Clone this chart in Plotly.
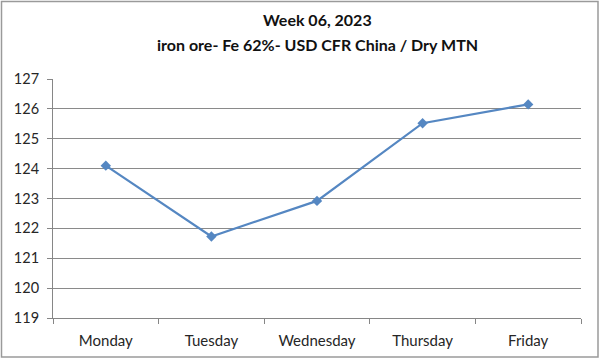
import plotly.graph_objects as go

days = ["Monday", "Tuesday", "Wednesday", "Thursday", "Friday"]
prices = [124.1, 121.73, 122.92, 125.52, 126.15]
y_ticks = [119, 120, 121, 122, 123, 124, 125, 126, 127]
title_line1 = "Week 06, 2023"
title_line2 = "iron ore- Fe 62%- USD CFR China / Dry MTN"

W, H = 600, 359
L, R, T, B = 53, 19, 79, 41
pw, ph = W - L - R, H - T - B

fig = go.Figure()
fig.add_trace(go.Scatter(
    x=days, y=prices, mode="lines+markers",
    line=dict(color="#5587C2", width=2.2),
    marker=dict(symbol="diamond", size=8, color="#5587C2"),
    showlegend=False, hoverinfo="x+y",
))

font = "Lato, Open Sans, sans-serif"
fig.update_layout(
    width=W, height=H,
    margin=dict(l=L, r=R, t=T, b=B, pad=0, autoexpand=False),
    paper_bgcolor="white", plot_bgcolor="white",
    font=dict(family=font, size=14, color="#222222"),
    xaxis=dict(
        type="category", tickson="boundaries", ticks="outside", ticklen=5,
        tickcolor="#868686", showline=True, linecolor="#868686", linewidth=1,
        showgrid=False, tickfont=dict(size=15, color="#262626"),
        range=[-0.5, 4.5], ticklabelstandoff=9, automargin=False,
    ),
    yaxis=dict(
        range=[119, 127], tickvals=y_ticks, ticks="outside", ticklen=5,
        tickcolor="#868686", showline=True, linecolor="#868686", linewidth=1,
        showgrid=True, gridcolor="#8a8a8a", gridwidth=1, zeroline=False,
        tickfont=dict(size=14.5, color="#262626"), ticklabelstandoff=5,
        automargin=False,
    ),
    annotations=[
        dict(text="<b>" + title_line1 + "</b>", x=0.5, xref="paper",
             y=(H - 20 - B) / ph, yref="paper", showarrow=False,
             font=dict(size=16, family=font, color="#111111"),
             xanchor="center", yanchor="middle"),
        dict(text="<b>" + title_line2 + "</b>", x=0.5, xref="paper",
             y=(H - 45 - B) / ph, yref="paper", showarrow=False,
             font=dict(size=16, family=font, color="#111111"),
             xanchor="center", yanchor="middle"),
    ],
    shapes=[
        dict(type="rect", xref="paper", yref="paper",
             x0=(1.5 - L) / pw, x1=(598 - L) / pw,
             y0=(H - 357 - B) / ph, y1=(H - 1.5 - B) / ph,
             line=dict(color="#9a9a9a", width=1.5), fillcolor="rgba(0,0,0,0)",
             layer="below"),
    ],
)

fig.write_html("out.html", config={"displayModeBar": False},
               post_script="document.body.style.margin='0';document.body.style.overflow='hidden';")
